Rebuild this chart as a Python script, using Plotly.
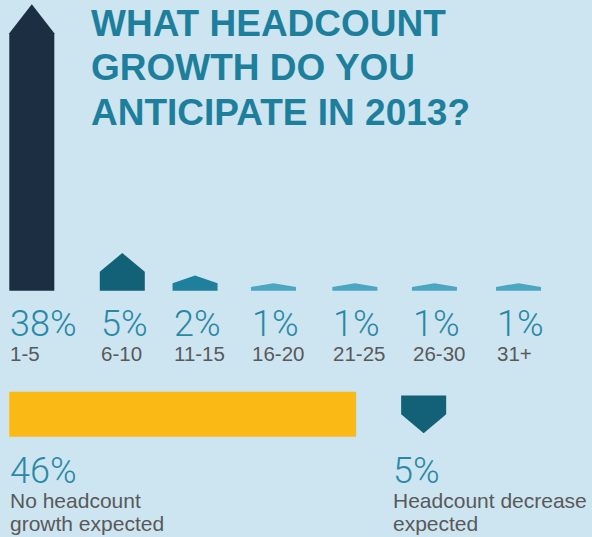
import plotly.graph_objects as go

# Survey responses: expected headcount growth in 2013
ranges = ["1-5", "6-10", "11-15", "16-20", "21-25", "26-30", "31+"]
growth_pct = [38, 5, 2, 1, 1, 1, 1]
bar_colors = ["#1b2e42", "#136177", "#1f809d", "#4aa6c1", "#4aa6c1", "#4aa6c1", "#4aa6c1"]

no_growth_pct = 46
no_growth_lines = ["No headcount", "growth expected"]
decrease_pct = 5
decrease_lines = ["Headcount decrease", "expected"]

title_lines = ["WHAT HEADCOUNT", "GROWTH DO YOU", "ANTICIPATE IN 2013?"]

# Layout geometry (1 axis unit = 1 percentage point, same scale on both axes)
W, H = 592, 537
PX_PER_UNIT = 7.54
X0_PX, Y0_PX = 9.3, 290.7          # pixel position of the origin
SLOT_LEFTS = [0.0, 12.0, 21.65, 32.05, 42.85, 53.4, 64.55]  # left edge of each arrow column
BAR_W = 5.97                       # arrow width
HEAD_MAX = 3.85                    # tallest arrow head
ROW_CENTER_PX = 414.3              # centre line of the lower row

BG = "#cde5f1"
PCT_COLOR = "#2a88a7"
GREY = "#595959"
TITLE_COLOR = "#1e7f9c"
YELLOW = "#fbb916"
DECREASE_COLOR = "#136177"

x_range = [-X0_PX / PX_PER_UNIT, (W - X0_PX) / PX_PER_UNIT]
y_range = [-(H - Y0_PX) / PX_PER_UNIT, Y0_PX / PX_PER_UNIT]


def py(px):
    """Pixel row -> paper fraction."""
    return 1 - px / H


def arrow_up(left, value):
    head = min(value / 2, HEAD_MAX)
    r = left + BAR_W
    c = left + BAR_W / 2
    xs = [left, r, r, c, left, left]
    ys = [0, 0, value - head, value, value - head, 0]
    return xs, ys


def arrow_down(left, top, value):
    head = min(value / 2, HEAD_MAX)
    r = left + BAR_W
    c = left + BAR_W / 2
    xs = [left, r, r, c, left, left]
    ys = [top, top, top - (value - head), top - value, top - (value - head), top]
    return xs, ys


fig = go.Figure()

for left, v, col, lab in zip(SLOT_LEFTS, growth_pct, bar_colors, ranges):
    xs, ys = arrow_up(left, v)
    fig.add_trace(go.Scatter(x=xs, y=ys, fill="toself", fillcolor=col, mode="lines",
                             line=dict(width=0, color=col), hoverinfo="text",
                             text=f"{lab}: {v}%", showlegend=False))

# Lower row: no growth bar and decrease arrow
row_c = (Y0_PX - ROW_CENTER_PX) / PX_PER_UNIT
fig.add_trace(go.Scatter(
    x=[0, no_growth_pct, no_growth_pct, 0, 0],
    y=[row_c + BAR_W / 2, row_c + BAR_W / 2, row_c - BAR_W / 2, row_c - BAR_W / 2, row_c + BAR_W / 2],
    fill="toself", fillcolor=YELLOW, mode="lines", line=dict(width=0, color=YELLOW),
    hoverinfo="text", text=f"No growth: {no_growth_pct}%", showlegend=False))

dec_left = no_growth_pct + BAR_W
xs, ys = arrow_down(dec_left, row_c + decrease_pct / 2, decrease_pct)
fig.add_trace(go.Scatter(x=xs, y=ys, fill="toself", fillcolor=DECREASE_COLOR, mode="lines",
                         line=dict(width=0, color=DECREASE_COLOR), hoverinfo="text",
                         text=f"Decrease: {decrease_pct}%", showlegend=False))

annotations = []
pct_font = dict(family="Roboto", size=36, color=PCT_COLOR, weight=300)
lab_font = dict(family="Liberation Sans, Arial", size=20.5, color=GREY)

for left, v, lab in zip(SLOT_LEFTS, growth_pct, ranges):
    annotations.append(dict(x=left, y=py(323.7), xref="x", yref="paper", text=f"{v}%",
                            xanchor="left", yanchor="middle", showarrow=False,
                            font=pct_font, borderpad=0))
    annotations.append(dict(x=left, y=py(353.7), xref="x", yref="paper", text=lab,
                            xanchor="left", yanchor="middle", showarrow=False,
                            font=lab_font, borderpad=0))

for x_left, pct, lines in [(0, no_growth_pct, no_growth_lines),
                           (dec_left - 1.15, decrease_pct, decrease_lines)]:
    annotations.append(dict(x=x_left, y=py(470.7), xref="x", yref="paper", text=f"{pct}%",
                            xanchor="left", yanchor="middle", showarrow=False,
                            font=pct_font, borderpad=0))
    for k, line in enumerate(lines):
        annotations.append(dict(x=x_left, y=py(500.5 + 23 * k), xref="x", yref="paper",
                                text=line, xanchor="left", yanchor="middle",
                                showarrow=False, font=dict(lab_font, size=21), borderpad=0))

for k, line in enumerate(title_lines):
    annotations.append(dict(x=90 / W, y=py(23.3 + 44.7 * k), xref="paper", yref="paper",
                            text=f"<b>{line}</b>", xanchor="left", yanchor="middle",
                            showarrow=False, borderpad=0,
                            font=dict(family="Liberation Sans, Arial", size=37,
                                      color=TITLE_COLOR)))

fig.update_layout(
    width=W, height=H,
    margin=dict(l=0, r=0, t=0, b=0),
    paper_bgcolor=BG, plot_bgcolor=BG,
    xaxis=dict(range=x_range, visible=False, fixedrange=True),
    yaxis=dict(range=y_range, visible=False, fixedrange=True),
    annotations=annotations,
    showlegend=False,
)

fig.write_html("out.html", config={"displayModeBar": False})
